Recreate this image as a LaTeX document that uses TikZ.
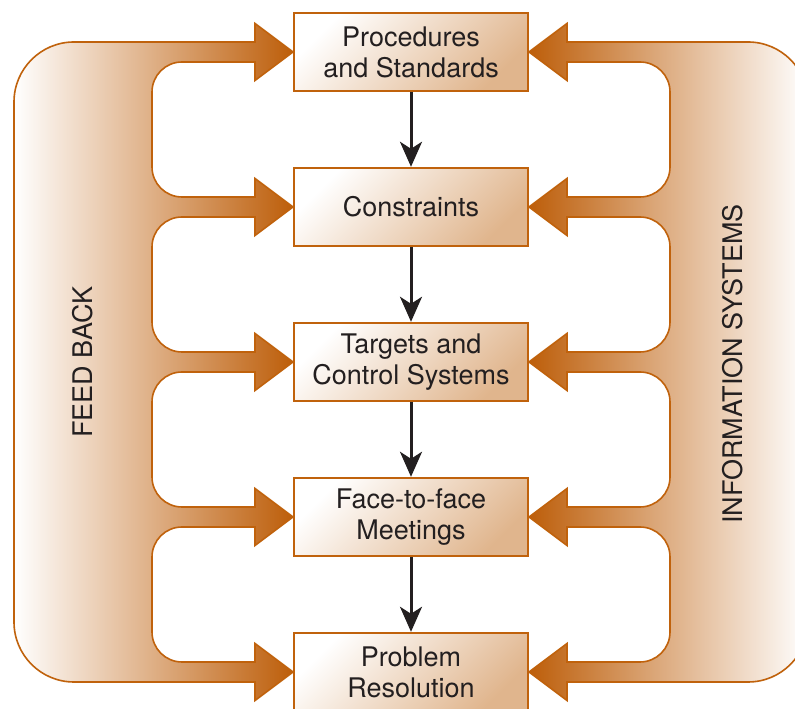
\documentclass[tikz,border=0pt]{standalone}
\usepackage{fontspec}
\setmainfont{TeX Gyre Heros}
\usetikzlibrary{arrows.meta}
\definecolor{rust}{HTML}{C0620C}
\definecolor{tipfill}{HTML}{BD5E0A}
\definecolor{boxtan}{HTML}{E0B58D}
\definecolor{ink}{HTML}{231F20}
\begin{document}
\begin{tikzpicture}[x=1pt,y=1pt,
  band/.style={draw=rust, line width=1.6pt, line join=miter},
  stage/.style={draw=rust, line width=2.4pt, minimum width=234pt, minimum height=78pt,
    inner sep=0pt, align=center, top color=white, bottom color=boxtan, shading angle=45,
    text=ink, font=\fontsize{27}{31}\selectfont},
  flow/.style={draw=ink, line width=3pt, -{Stealth[length=25pt,width=22pt,inset=7pt]}},
  sidelabel/.style={rotate=90, text=ink, font=\fontsize{27}{31}\selectfont}]
\useasboundingbox (0,0) rectangle (795,709);
\clip (0,0) rectangle (795,709);
\fill[white] (0,0) rectangle (795,709);

% feedback band on the left: a comb of five arrows pointing right
\path[band, left color=white, right color=tipfill]
  (74,667) -- (255,667) -- (255,685.5) -- (293,657) -- (255,628.5) -- (255,647)
  \foreach \c in {502,347,192,37} {
    -- (182,\c+145) arc[start angle=90,end angle=180,radius=30pt]
    -- (152,\c+40) arc[start angle=180,end angle=270,radius=30pt]
    -- (255,\c+10) -- (255,\c+28.5) -- (293,\c) -- (255,\c-28.5) -- (255,\c-10)
  }
  -- (74,27) arc[start angle=270,end angle=180,radius=60pt]
  -- (14,607) arc[start angle=180,end angle=90,radius=60pt] -- cycle;

% information band on the right: a comb of five arrows pointing left
\path[band, left color=tipfill, right color=white]
  (748,667) -- (567,667) -- (567,685.5) -- (529,657) -- (567,628.5) -- (567,647)
  \foreach \c in {502,347,192,37} {
    -- (640,\c+145) arc[start angle=90,end angle=0,radius=30pt]
    -- (670,\c+40) arc[start angle=0,end angle=-90,radius=30pt]
    -- (567,\c+10) -- (567,\c+28.5) -- (529,\c) -- (567,\c-28.5) -- (567,\c-10)
  }
  -- (748,27) arc[start angle=-90,end angle=0,radius=60pt]
  -- (808,607) arc[start angle=0,end angle=90,radius=60pt] -- cycle;

\node[sidelabel] (fb) at (83,347) {FEED BACK};
\node[sidelabel] (is) at (733,345) {INFORMATION SYSTEMS};

% the five stages
\node[stage] (s1) at (411,657) {Procedures\\and Standards};
\node[stage] (s2) at (411,502) {Constraints};
\node[stage] (s3) at (411,347) {Targets and\\Control Systems};
\node[stage] (s4) at (411,192) {Face-to-face\\Meetings};
\node[stage] (s5) at (411,37) {Problem\\Resolution};

\draw[flow] (s1) -- (s2);
\draw[flow] (s2) -- (s3);
\draw[flow] (s3) -- (s4);
\draw[flow] (s4) -- (s5);
\end{tikzpicture}
\end{document}
